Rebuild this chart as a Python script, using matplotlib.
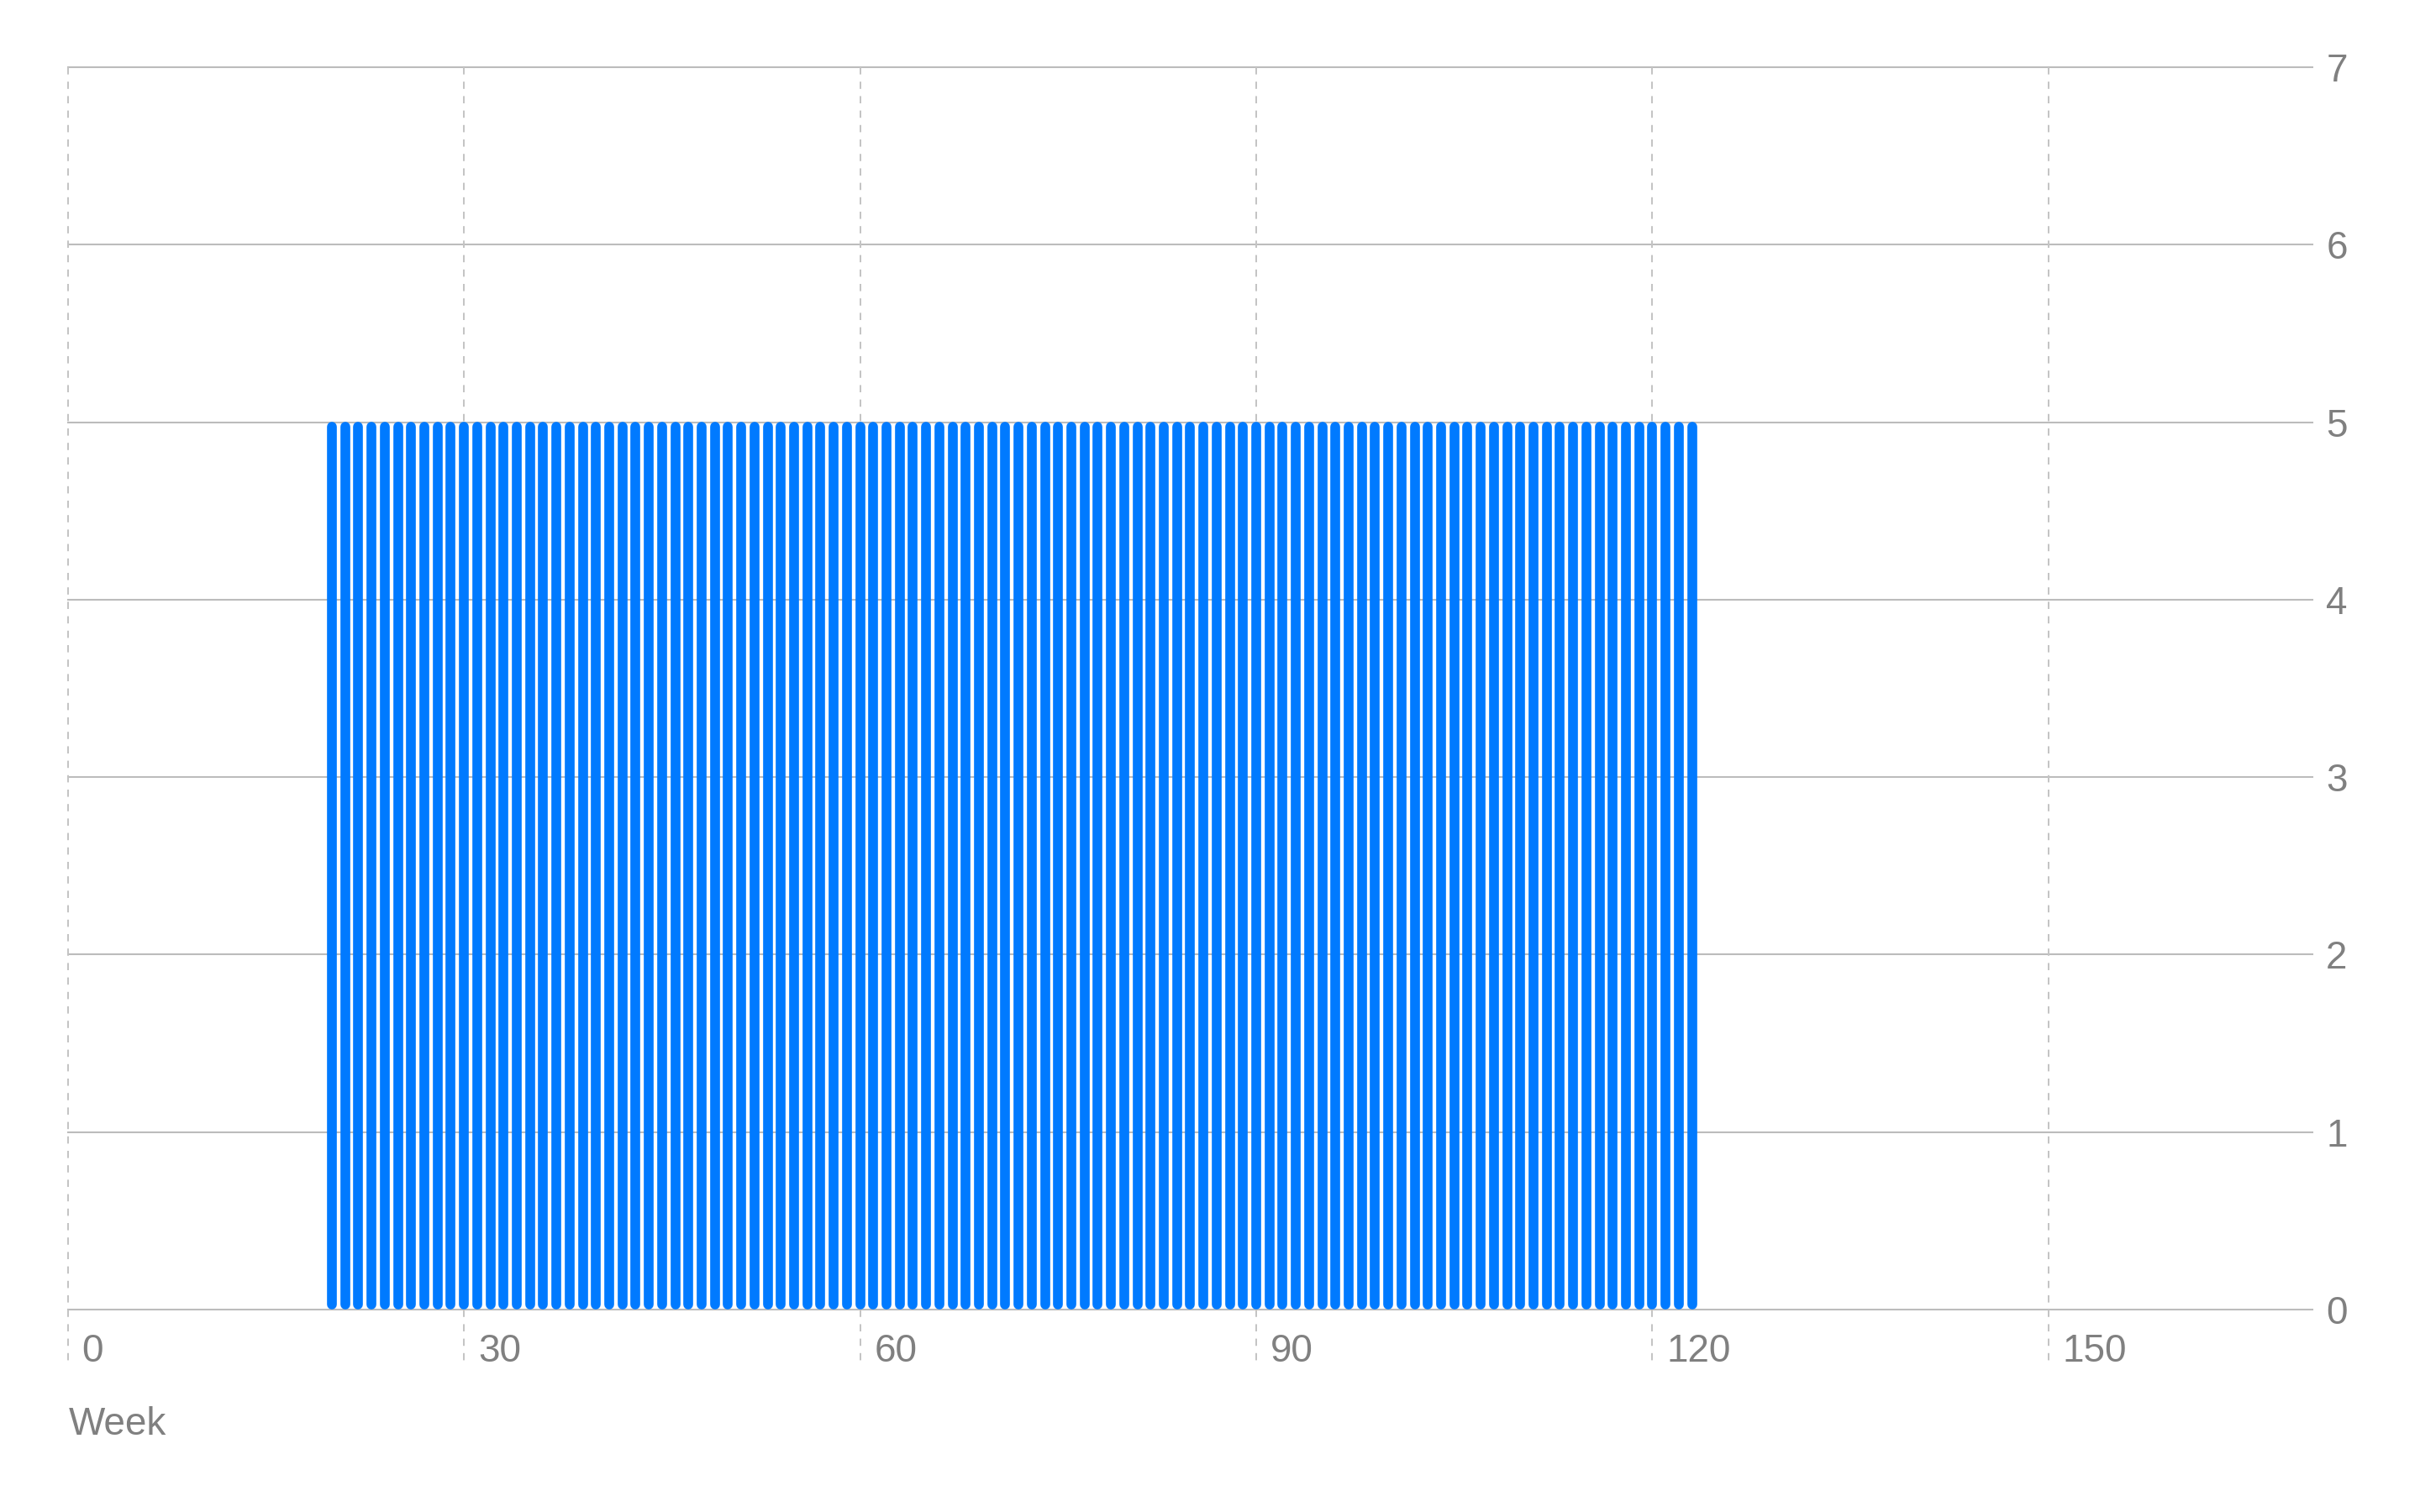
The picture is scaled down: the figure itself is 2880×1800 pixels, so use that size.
import matplotlib
matplotlib.use("Agg")
import matplotlib.pyplot as plt
import matplotlib.transforms as mtransforms

# weekly values
weeks = [20, 21, 22, 23, 24, 25, 26, 27, 28, 29, 30, 31, 32, 33, 34, 35, 36, 37, 38, 39,
         40, 41, 42, 43, 44, 45, 46, 47, 48, 49, 50, 51, 52, 53, 54, 55, 56, 57, 58, 59,
         60, 61, 62, 63, 64, 65, 66, 67, 68, 69, 70, 71, 72, 73, 74, 75, 76, 77, 78, 79,
         80, 81, 82, 83, 84, 85, 86, 87, 88, 89, 90, 91, 92, 93, 94, 95, 96, 97, 98, 99,
         100, 101, 102, 103, 104, 105, 106, 107, 108, 109, 110, 111, 112, 113, 114, 115,
         116, 117, 118, 119, 120, 121, 122, 123]
values = [5, 5, 5, 5, 5, 5, 5, 5, 5, 5, 5, 5, 5, 5, 5, 5, 5, 5, 5, 5,
          5, 5, 5, 5, 5, 5, 5, 5, 5, 5, 5, 5, 5, 5, 5, 5, 5, 5, 5, 5,
          5, 5, 5, 5, 5, 5, 5, 5, 5, 5, 5, 5, 5, 5, 5, 5, 5, 5, 5, 5,
          5, 5, 5, 5, 5, 5, 5, 5, 5, 5, 5, 5, 5, 5, 5, 5, 5, 5, 5, 5,
          5, 5, 5, 5, 5, 5, 5, 5, 5, 5, 5, 5, 5, 5, 5, 5,
          5, 5, 5, 5, 5, 5, 5, 5]
x_ticks = [0, 30, 60, 90, 120, 150]
y_ticks = [0, 1, 2, 3, 4, 5, 6, 7]

plt.rcParams['font.family'] = ['Liberation Sans', 'DejaVu Sans']

DPI = 200
fig = plt.figure(figsize=(14.4, 9), dpi=DPI)
left, right, bottom, top = 0.0280, 0.9556, 0.1339, 0.9556
ax = fig.add_axes([left, bottom, right - left, top - bottom])

grid_c = '#bcbcbc'
text_c = '#808080'
bar_c = '#007AFF'
fs = 16.5

ax.set_xlim(0, 170)
ax.set_ylim(0, 7)
for s in ax.spines.values():
    s.set_visible(False)

# horizontal grid
for y in y_ticks:
    ax.axhline(y, color=grid_c, lw=0.75, zorder=1, clip_on=False)

# vertical dashed grid, running past the axis as tick marks
tr = ax.get_xaxis_transform()
for x in x_ticks:
    ax.plot([x, x], [1, -0.046], transform=tr, color='#c4c4c4', lw=0.72,
            linestyle=(0, (4.3, 4.3)), clip_on=False, zorder=1)
    lab_tr = mtransforms.offset_copy(tr, fig, x=6.1, y=-22.3, units='points')
    ax.text(x, 0, str(x), transform=lab_tr, ha='left', va='baseline',
            fontsize=fs, color=text_c)

# bars as rounded capsules
lw_pt = 4.2
px_per_unit = (top - bottom) * 1800 / 7
r = (lw_pt / 72 * DPI / 2) / px_per_unit
lines = ax.vlines(weeks, [r] * len(values), [v - r for v in values],
                  color=bar_c, lw=lw_pt, zorder=3)
lines.set_capstyle('round')

ax.set_xticks([])
ax.yaxis.tick_right()
ax.set_yticks(y_ticks)
ax.set_yticklabels([str(y) for y in y_ticks])
ax.tick_params(axis='y', length=0, pad=5.8, labelsize=fs, labelcolor=text_c)

fig.text(82 / 2880, 1 - 1708 / 1800, 'Week', ha='left', va='baseline',
         fontsize=fs, color=text_c)

fig.savefig('out.png', dpi=DPI, facecolor='white')
